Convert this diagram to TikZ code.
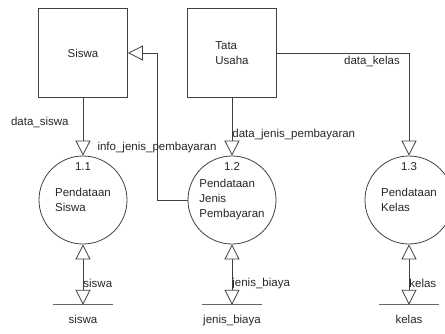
\documentclass[tikz,border=0pt]{standalone}
\usepackage{fontspec}
\setmainfont{Liberation Sans}
\usetikzlibrary{arrows.meta,positioning}
\tikzset{
	basic/.style = {draw=black!75, line width=0.8pt},
	entity/.style = {basic, rectangle, minimum width=89pt, minimum height=89pt, align=left},
	process/.style = {basic, circle, minimum size=88pt, inner sep=0pt, align=left},
	num/.style = {inner sep=0pt},
	store/.style = {minimum width=60pt, minimum height=30pt, inner sep=0pt, text height=8pt, text depth=2pt},
	storeline/.style = {draw=black!60, line width=0.9pt},
	lbl/.style = {inner sep=0pt},
	tip/.style = {Triangle[open, length=15pt, width=15pt, fill=white]},
	flow/.style = {basic, -{Triangle[open, length=15pt, width=15pt, fill=white]}},
	dflow/.style = {basic, {Triangle[open, length=15pt, width=15pt, fill=white]}-{Triangle[open, length=15pt, width=15pt, fill=white]}}
}

\begin{document}
\begin{tikzpicture}[x=1pt, y=-1pt,
		every node/.style={font=\fontsize{11.5}{15}\selectfont, text=black!85}]
	\useasboundingbox (0,0) rectangle (445,333);
	
	% external entities
	\node[entity] (siswa) at (83,53) {Siswa};
	\node[entity] (tu) at (232,53) {Tata\\Usaha};
	
	% processes
	\node[process] (p1) at (83,200) {Pendataan\\Siswa};
	\node[process] (p2) at (232,200) {Pendataan\\Jenis\\Pembayaran};
	\node[process] (p3) at (409,200) {Pendataan\\Kelas};
	\node[num] (n1) at ([yshift=-11pt]p1.north) {1.1};
	\node[num] (n2) at ([yshift=-11pt]p2.north) {1.2};
	\node[num] (n3) at ([yshift=-11pt]p3.north) {1.3};
	
	% data stores
	\node[store] (s1) at (83,320) {siswa};
	\node[store] (s2) at (232,320) {jenis\_biaya};
	\node[store] (s3) at (409,320) {kelas};
	\foreach \s in {s1,s2,s3}
	\draw[storeline] (\s.north west) -- (\s.north east);
	
	% data flows
	\coordinate (bend) at (157,53);
	\draw[flow] (siswa.south) -- (p1.north)
		node[lbl, pos=0.42, left=14pt] {data\_siswa};
	\draw[flow] (p2.west) -| (bend)
		node[lbl, pos=0.68] {info\_jenis\_pembayaran} -- (siswa.east);
	\draw[flow] (tu.south) -- (p2.north)
		node[lbl, pos=0.64, anchor=west] {data\_jenis\_pembayaran};
	\draw[flow] (tu.east) -| (p3.north)
		node[lbl, pos=0.36, below=3pt] {data\_kelas};
	
	\draw[dflow] (p1.south) -- (s1.north)
		node[lbl, pos=0.64, anchor=west] {siswa};
	\draw[dflow] (p2.south) -- (s2.north)
		node[lbl, pos=0.64, anchor=west] {jenis\_biaya};
	\draw[dflow] (p3.south) -- (s3.north)
		node[lbl, pos=0.64, anchor=west] {kelas};
\end{tikzpicture}
\end{document}
